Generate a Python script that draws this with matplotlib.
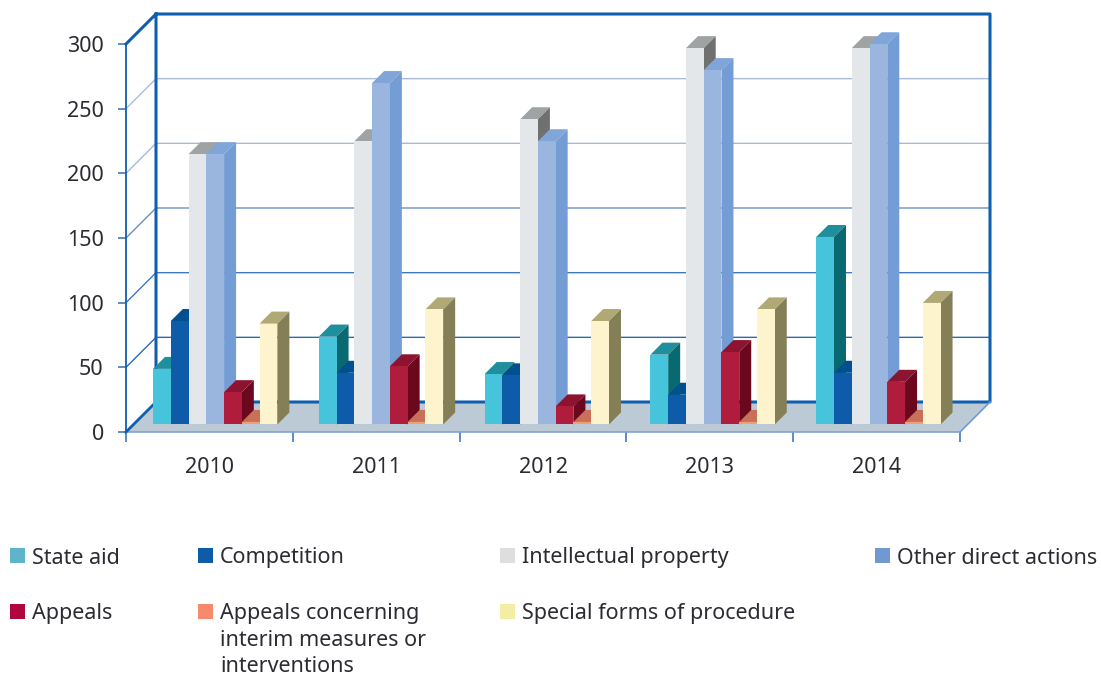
import matplotlib

matplotlib.use("Agg")
import matplotlib.pyplot as plt
from matplotlib.patches import Polygon, Rectangle

years = ["2010", "2011", "2012", "2013", "2014"]
state_aid = [43, 68, 39, 54, 145]
competition = [80, 40, 38, 23, 40]
intellectual_property = [209, 219, 236, 291, 291]
other_direct = [209, 264, 219, 274, 294]
appeals = [25, 45, 14, 56, 33]
interim = [2, 2, 2, 2, 2]
special_forms = [78, 89, 80, 89, 94]
y_ticks = [0, 50, 100, 150, 200, 250, 300]

series = [state_aid, competition, intellectual_property, other_direct, appeals, interim, special_forms]
# front, top, side
bar_colors = [
    ("#46c4dc", "#1f8f9e", "#086a70"),
    ("#0e5ca9", "#004f8f", "#004f8f"),
    ("#e3e7ea", "#9fa3a3", "#6f7070"),
    ("#9ab5de", "#80a5d8", "#749dd5"),
    ("#b01c3c", "#8c1430", "#6c081e"),
    ("#f0a070", "#c87058", "#c87058"),
    ("#fdf3cc", "#b0a875", "#857f58"),
]
legend_rows = [
    (10, 32, 548, ["State aid"], "#5fb4c7"),
    (198, 220, 548, ["Competition"], "#0e5ca9"),
    (500, 522, 548, ["Intellectual property"], "#dedede"),
    (875, 897, 548, ["Other direct actions"], "#7099d2"),
    (10, 32, 604, ["Appeals"], "#b0063e"),
    (198, 220, 604, ["Appeals concerning", "interim measures or", "interventions"], "#f58a6c"),
    (500, 522, 604, ["Special forms of procedure"], "#f5eca5"),
]

W, H = 1101, 674
TEXT = "#2b2b33"
FRAME = "#0f5fae"
DX = 30 / 166.8
DY = 30 / 1.2933
BAR_W = 0.1065
BAR_START = 0.117
GROUP_STEP = 0.994
D0, D1 = 0.25, 0.65

plt.rcParams["font.family"] = ["Noto Sans", "DejaVu Sans"]
fig = plt.figure(figsize=(W / 100, H / 100), dpi=100)
ax = fig.add_axes([126 / W, 1 - 432 / H, 834 / W, 388 / H])
ax.set_xlim(0, 5)
ax.set_ylim(0, 300)
ax.patch.set_visible(False)


def proj(x, v, d):
    return x + d * DX, v + d * DY


def face(points, color, z, **kw):
    ax.add_patch(Polygon(points, closed=True, fc=color, ec=kw.pop("ec", "none"), zorder=z, clip_on=False, **kw))


def line(points, color, lw, z=2):
    xs, ys = zip(*points)
    ax.plot(xs, ys, color=color, lw=lw, zorder=z, clip_on=False, solid_capstyle="projecting")


# floor
face([proj(0, 0, 0), proj(5, 0, 0), proj(5, 0, 1), proj(0, 0, 1)], "#bccad6", 1)

# gridlines on the walls
grid_colors = {50: "#2a6cb4", 100: "#3f78ba", 150: "#6d8fc5", 200: "#a5b9db", 250: "#a9bbdc"}
for v, c in grid_colors.items():
    line([proj(0, v, 0), proj(0, v, 1), proj(5, v, 1)], c, 1.0)

# wall frame
line([proj(0, 300, 0), proj(0, 300, 1), proj(5, 300, 1), proj(5, 0, 1), proj(0, 0, 1), proj(0, 300, 1)], FRAME, 2.2, 3)
line([proj(0, 0, 0), proj(0, 0, 1)], FRAME, 2.0, 3)
line([proj(5, 0, 0), proj(5, 0, 1)], "#6f9ad0", 1.2, 3)

# bars, left to right so that each one covers the side of the previous
z = 10
for i in range(len(years)):
    for j, vals in enumerate(series):
        v = vals[i]
        x0 = i * GROUP_STEP + BAR_START + j * BAR_W
        x1 = x0 + BAR_W
        front, top, side = bar_colors[j]
        face([proj(x0, 0, D0), proj(x1, 0, D0), proj(x1, v, D0), proj(x0, v, D0)], front, z + 2)
        face([proj(x0, v, D0), proj(x1, v, D0), proj(x1, v, D1), proj(x0, v, D1)], top, z)
        face([proj(x1, 0, D0), proj(x1, 0, D1), proj(x1, v, D1), proj(x1, v, D0)], side, z + 1)
        z += 3

# axes
for name in ["top", "right"]:
    ax.spines[name].set_visible(False)
ax.spines["left"].set_color(FRAME)
ax.spines["left"].set_linewidth(1.3)
ax.spines["bottom"].set_color("#7fa3d3")
ax.spines["bottom"].set_linewidth(1.2)

ax.set_yticks(y_ticks)
ax.tick_params(axis="y", length=6, width=1.1, color="#2f6db3", pad=10, labelsize=15.5, labelcolor=TEXT)
ax.set_xticks(range(len(years) + 1))
ax.set_xticklabels([])
ax.set_xticks([i + 0.5 for i in range(len(years))], labels=years, minor=True)
ax.tick_params(axis="x", which="major", length=7, width=1.1, color="#2f6db3")
ax.tick_params(axis="x", which="minor", length=0, pad=18, labelsize=15.5, labelcolor=TEXT)

# legend
for box_x, text_x, box_y, text_lines, color in legend_rows:
    fig.add_artist(Rectangle((box_x / W, 1 - (box_y + 15) / H), 15 / W, 15 / H, fc=color, ec="none",
                             transform=fig.transFigure))
    for k, txt in enumerate(text_lines):
        fig.text(text_x / W, 1 - (box_y + 15.5 + k * 26.5) / H, txt, fontsize=15.5, color=TEXT,
                 va="baseline", ha="left")

fig.savefig("out.png", dpi=100)
plt.close(fig)
